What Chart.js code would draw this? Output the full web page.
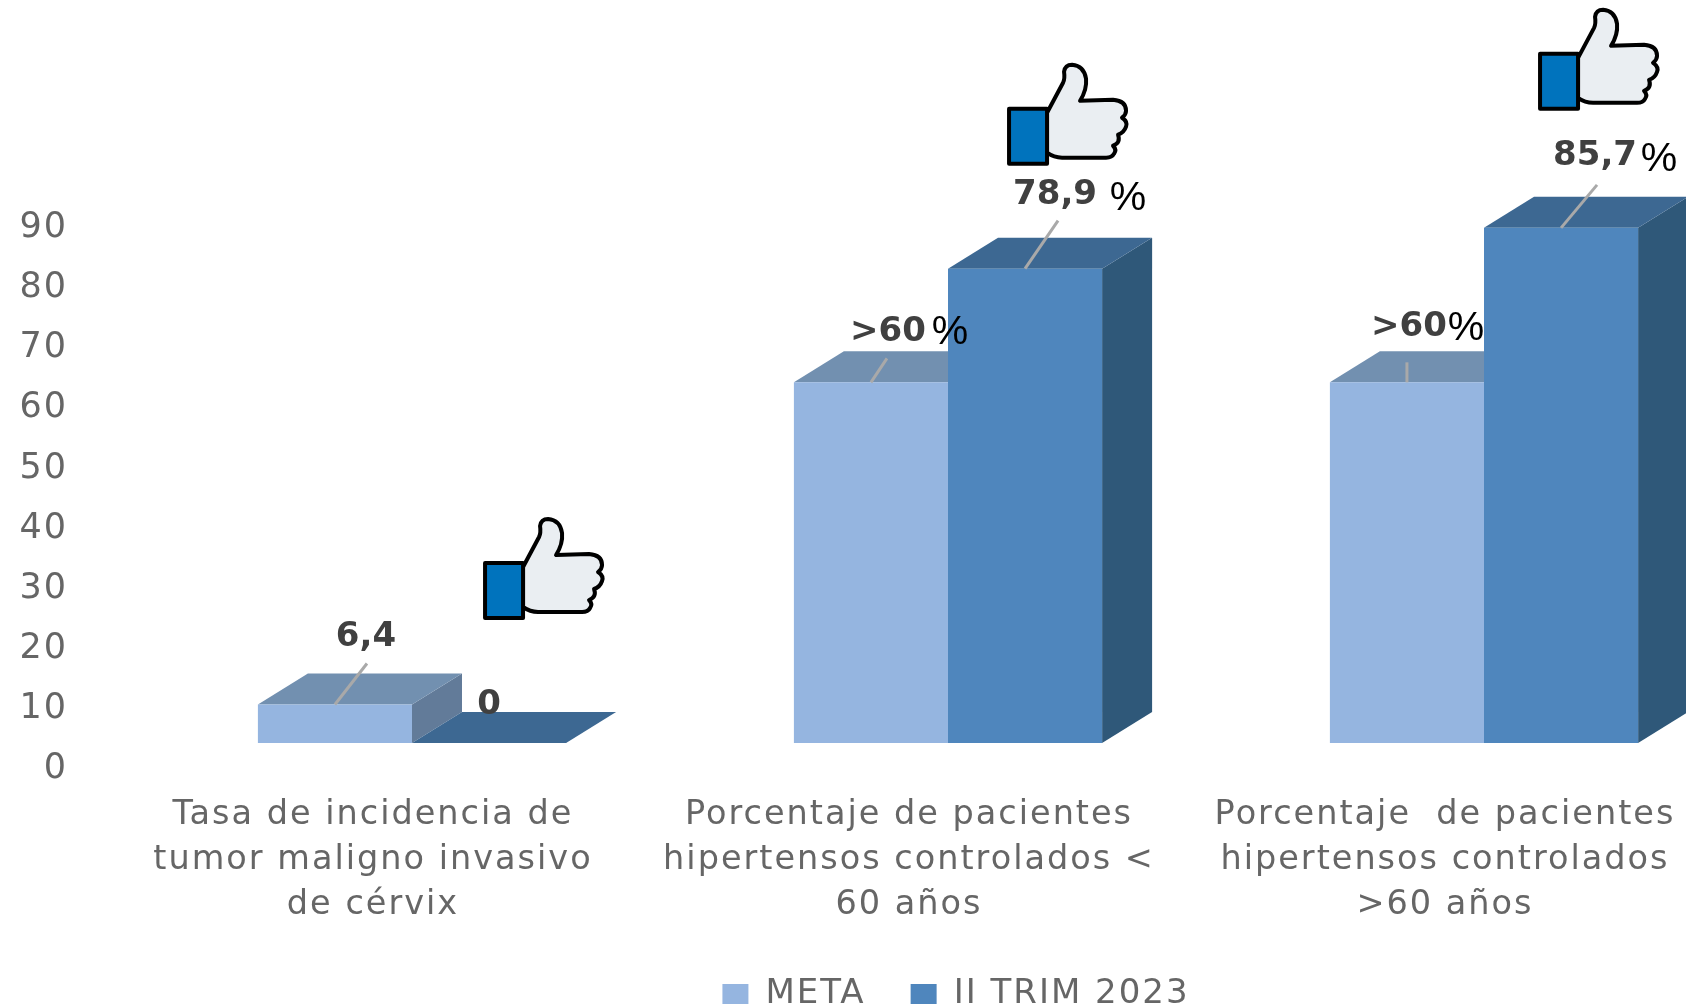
<!DOCTYPE html>
<html lang="es">
<head>
<meta charset="utf-8">
<title>Indicadores II TRIM 2023</title>
<script src="https://cdn.jsdelivr.net/npm/chart.js@4/dist/chart.umd.min.js"></script>
<style>
html,body{margin:0;padding:0;background:#fff;overflow:hidden;width:1686px;height:1006px}
canvas{display:block}
</style>
</head>
<body>
<canvas id="c" width="1760" height="1006"></canvas>
<script>
const categories = [
  ["Tasa de incidencia de", "tumor maligno invasivo", "de cérvix"],
  ["Porcentaje de pacientes", "hipertensos controlados <", "60 años"],
  ["Porcentaje  de pacientes", "hipertensos controlados", ">60 años"]
];
const seriesNames = ["META", "II TRIM 2023"];
const metaValues = [6.4, 60, 60];
const trimValues = [0, 78.9, 85.7];
const metaLabels = ["6,4", ">60", ">60"];
const trimLabels = ["0", "78,9", "85,7"];
const metaHasPercent = [false, true, true];
const trimHasPercent = [false, true, true];
const yTicks = [0, 10, 20, 30, 40, 50, 60, 70, 80, 90];

// Styling tables (offsets from each bar's top centre, in pixels)
const depthX = 50, depthY = -31;
const legendShift = 64;
const faces = [
  {front:"#95b5e0", top:"#7290b0", side:"#627b99"},
  {front:"#4f86bd", top:"#3d6892", side:"#2f5879"}
];
const calloutStyle = [
  [{tx:31,ty:-67,px:0,py:0,lx:32,ly:-41},{tx:17,ty:-50,px:79,py:-50,lx:16,ly:-24},{tx:2,ty:-55,px:59,py:-54,lx:0,ly:-20}],
  [{tx:0,ty:-38,px:0,py:0,lx:null,ly:null},{tx:30,ty:-74,px:103,py:-70,lx:33,ly:-48},{tx:34,ty:-72,px:98,py:-68,lx:36,ly:-43}]
];
const thumbStyle = [{dx:-5,dy:-225},{dx:-17,dy:-205},{dx:-22,dy:-219}];

function drawThumb(ctx, x, y){
  ctx.save();
  ctx.translate(x, y);
  ctx.lineWidth = 4;
  ctx.lineJoin = "round";
  ctx.strokeStyle = "#000";
  ctx.fillStyle = "#eaeef2";
  ctx.beginPath();
  ctx.moveTo(39,49);
  ctx.lineTo(55,19);
  ctx.quadraticCurveTo(57,15,56,8);
  ctx.quadraticCurveTo(57,1,64,1);
  ctx.quadraticCurveTo(76,2,78,15);
  ctx.quadraticCurveTo(79,26,72,37);
  ctx.lineTo(105,36);
  ctx.quadraticCurveTo(118,37,118,47);
  ctx.quadraticCurveTo(118,51,114,54);
  ctx.quadraticCurveTo(120,58,118,63);
  ctx.quadraticCurveTo(116,69,110,71);
  ctx.quadraticCurveTo(113,79,105,82);
  ctx.quadraticCurveTo(109,86,106,90);
  ctx.quadraticCurveTo(104,94,98,94);
  ctx.lineTo(54,94);
  ctx.quadraticCurveTo(46,94,39,89);
  ctx.closePath();
  ctx.fill();
  ctx.stroke();
  ctx.fillStyle = "#0073bd";
  ctx.beginPath();
  ctx.rect(1,45,38,55);
  ctx.fill();
  ctx.stroke();
  ctx.restore();
}

const bar3d = {
  id: "bar3d",
  afterLayout(chart){
    chart.legend.left += legendShift;
    chart.legend.right += legendShift;
  },
  beforeDraw(chart){
    chart.ctx.letterSpacing = "2px";
  },
  beforeDatasetsDraw(chart){
    const ctx = chart.ctx;
    faces.forEach((f, ds) => {
      chart.getDatasetMeta(ds).data.forEach(b => {
        const l = b.x - b.width/2, r = b.x + b.width/2;
        ctx.save();
        ctx.fillStyle = f.side;
        ctx.beginPath();
        ctx.moveTo(r, b.y); ctx.lineTo(r+depthX, b.y+depthY);
        ctx.lineTo(r+depthX, b.base+depthY); ctx.lineTo(r, b.base);
        ctx.closePath(); ctx.fill();
        ctx.fillStyle = f.top;
        ctx.beginPath();
        ctx.moveTo(l, b.y); ctx.lineTo(l+depthX, b.y+depthY);
        ctx.lineTo(r+depthX, b.y+depthY); ctx.lineTo(r, b.y);
        ctx.closePath(); ctx.fill();
        ctx.restore();
      });
    });
  },
  afterDraw(chart){
    const ctx = chart.ctx;
    const texts = [metaLabels, trimLabels], pcts = [metaHasPercent, trimHasPercent];
    ctx.save();
    ctx.letterSpacing = "0px";
    texts.forEach((labels, ds) => {
      chart.getDatasetMeta(ds).data.forEach((b, i) => {
        const s = calloutStyle[ds][i];
        if (s.lx !== null){
          ctx.strokeStyle = "#a9a9a9"; ctx.lineWidth = 3;
          ctx.beginPath();
          ctx.moveTo(b.x, b.y); ctx.lineTo(b.x + s.lx, b.y + s.ly);
          ctx.stroke();
        }
        ctx.textAlign = "center"; ctx.textBaseline = "middle";
        ctx.fillStyle = "#404040";
        ctx.font = "bold 34px 'DejaVu Sans'";
        ctx.fillText(labels[i], b.x + s.tx, b.y + s.ty);
        if (pcts[ds][i]){
          ctx.fillStyle = "#000";
          ctx.font = "41px 'Liberation Sans'";
          ctx.fillText("%", b.x + s.px, b.y + s.py);
        }
      });
    });
    ctx.restore();
    chart.getDatasetMeta(1).data.forEach((b, i) => {
      drawThumb(ctx, b.x + thumbStyle[i].dx, b.y + thumbStyle[i].dy);
    });
  }
};

new Chart(document.getElementById("c"), {
  type: "bar",
  data: {
    labels: categories,
    datasets: [
      {label: seriesNames[0], data: metaValues, backgroundColor: faces[0].front},
      {label: seriesNames[1], data: trimValues, backgroundColor: faces[1].front}
    ]
  },
  options: {
    responsive: false,
    animation: false,
    layout: {padding: {top: 202, left: 0, right: 8, bottom: -15}},
    datasets: {bar: {categoryPercentage: 0.575, barPercentage: 1, borderWidth: 0}},
    plugins: {
      tooltip: {enabled: false},
      legend: {
        position: "bottom",
        labels: {
          color: "#666",
          font: {family: "'DejaVu Sans'", size: 34},
          boxWidth: 26, boxHeight: 20, padding: 45
        }
      }
    },
    scales: {
      x: {
        grid: {display: false}, border: {display: false},
        afterFit(s){ s.height = 189; },
        ticks: {
          color: "#666", autoSkip: false, maxRotation: 0, minRotation: 0,
          labelOffset: -39, padding: 42,
          font: {family: "'DejaVu Sans'", size: 33.5, lineHeight: 1.343}
        }
      },
      y: {
        min: yTicks[0], max: yTicks[yTicks.length-1],
        grid: {display: false}, border: {display: false},
        afterFit(s){ s.width = 144; },
        afterBuildTicks(s){ s.ticks = yTicks.map(v => ({value: v})); },
        ticks: {
          color: "#666", labelOffset: 26, padding: 68,
          font: {family: "'DejaVu Sans'", size: 35}
        }
      }
    }
  },
  plugins: [bar3d]
});
</script>
</body>
</html>
